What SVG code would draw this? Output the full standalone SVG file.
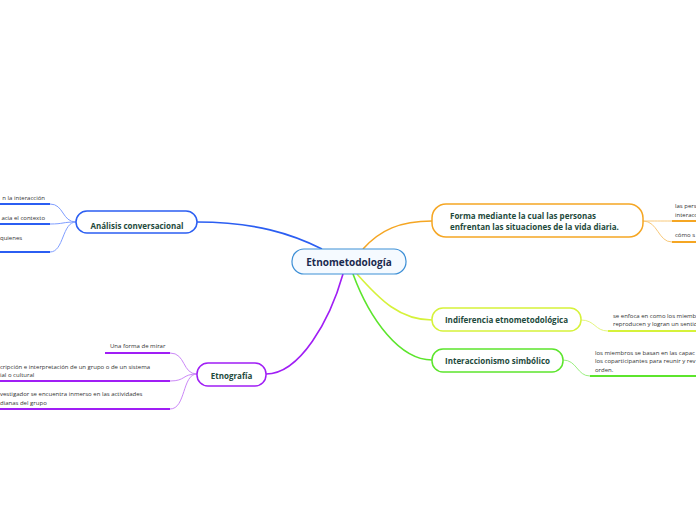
<svg xmlns="http://www.w3.org/2000/svg" width="696" height="520" viewBox="0 0 696 520">
<style>
text{font-family:"Open Sans","Noto Sans","Liberation Sans",sans-serif}
.main{font-size:10px;font-weight:bold;fill:#1b2a4e}
.nd{font-size:8px;font-weight:bold;fill:#1e4a3c}
.sm{font-size:6px;fill:#333}
</style>
<rect width="696" height="520" fill="#ffffff"/>
<g id="connectors" fill="none">
<path d="M322,249 C292,234 255,222 197,222" stroke="#2b5ef2" stroke-width="1.6"/>
<path d="M363,249 C380,230 400,221 432,221" stroke="#f5a623" stroke-width="1.6"/>
<path d="M343,274 C330,320 300,374 266,374" stroke="#a01ef5" stroke-width="1.6"/>
<path d="M357,274 C380,300 400,320 432,320" stroke="#d6f23a" stroke-width="1.6"/>
<path d="M353,274 C370,320 400,360 432,360" stroke="#5ce52c" stroke-width="1.6"/>
<g stroke="#7f9eff" stroke-width="1">
<path d="M76,222 C62,222 64,204 50,204"/>
<path d="M76,222 C62,222 64,224 50,224"/>
<path d="M76,222 C62,222 64,252 50,252"/>
</g>
<g stroke="#2b5ef2" stroke-width="2">
<path d="M0,204 H50"/><path d="M0,224 H50"/><path d="M0,252 H50"/>
</g>
<g stroke="#cb88f7" stroke-width="1">
<path d="M197,374 C182,374 186,353 170,353"/>
<path d="M197,374 C182,374 186,381 170,381"/>
<path d="M197,374 C182,374 186,409 170,409"/>
</g>
<g stroke="#a01ef5" stroke-width="2">
<path d="M105,353 H170"/><path d="M0,381 H170"/><path d="M0,409 H170"/>
</g>
<g stroke="#f8c878" stroke-width="1">
<path d="M643,221 C655,221 660,221 672,221"/>
<path d="M643,221 C658,221 658,242 672,242"/>
</g>
<g stroke="#f5a623" stroke-width="2">
<path d="M672,221 H696"/><path d="M672,242 H696"/>
</g>
<path d="M581,320 C595,320 595,331 608,331" stroke="#e4f57e" stroke-width="1"/>
<path d="M608,331 H696" stroke="#d6f23a" stroke-width="2"/>
<path d="M563,360 C577,360 577,376 590,376" stroke="#9bef80" stroke-width="1"/>
<path d="M590,376 H696" stroke="#5ce52c" stroke-width="2"/>
</g>
<g id="center">
<rect x="292" y="249" width="114" height="25" rx="12" fill="#f5faff" stroke="#3d8fd6" stroke-width="1.2"/>
<text class="main" x="349" y="265.5" text-anchor="middle">Etnometodología</text>
</g>
<g id="analisis">
<rect x="76" y="211" width="121" height="22" rx="11" fill="#fff" stroke="#2b5ef2" stroke-width="1.5"/>
<text class="nd" x="137" y="229" text-anchor="middle">Análisis conversacional</text>
</g>
<g id="analisis-sub">
<text class="sm" x="45" y="199.5" text-anchor="end">n la interacción</text>
<text class="sm" x="45" y="219.5" text-anchor="end">acia el contexto</text>
<text class="sm" x="0" y="239.5">quienes</text>
</g>
<g id="etnografia">
<rect x="197" y="363" width="69" height="23" rx="11" fill="#fff" stroke="#a01ef5" stroke-width="1.5"/>
<text class="nd" x="231.5" y="379" text-anchor="middle">Etnografía</text>
</g>
<g id="etnografia-sub">
<text class="sm" x="110" y="348">Una forma de mirar</text>
<text class="sm" x="0" y="368.5">cripción e interpretación de un grupo o de un sistema</text>
<text class="sm" x="0" y="377">ial o cultural</text>
<text class="sm" x="0" y="396">vestigador se encuentra inmerso en las actividades</text>
<text class="sm" x="0" y="405">dianas del grupo</text>
</g>
<g id="forma">
<rect x="432" y="204" width="211" height="33" rx="14" fill="#fff" stroke="#f5a623" stroke-width="1.5"/>
<text class="nd" x="450" y="218.5">Forma mediante la cual las personas</text>
<text class="nd" x="450" y="230">enfrentan las situaciones de la vida diaria.</text>
</g>
<g id="forma-sub">
<text class="sm" x="675" y="207.5">las pers</text>
<text class="sm" x="675" y="216.5">interacc</text>
<text class="sm" x="675" y="236.5">cómo s</text>
</g>
<g id="indiferencia">
<rect x="432" y="308" width="149" height="23" rx="11" fill="#fff" stroke="#d6f23a" stroke-width="1.5"/>
<text class="nd" x="506.5" y="323" text-anchor="middle">Indiferencia etnometodológica</text>
</g>
<g id="indiferencia-sub">
<text class="sm" x="613" y="317.5">se enfoca en como los miemb</text>
<text class="sm" x="613" y="326">reproducen y logran un sentid</text>
</g>
<g id="interaccionismo">
<rect x="432" y="349" width="131" height="23" rx="11" fill="#fff" stroke="#5ce52c" stroke-width="1.5"/>
<text class="nd" x="497.5" y="364" text-anchor="middle">Interaccionismo simbólico</text>
</g>
<g id="interaccionismo-sub">
<text class="sm" x="595" y="354.5">los miembros se basan en las capac</text>
<text class="sm" x="595" y="363">los coparticipantes para reunir y rev</text>
<text class="sm" x="595" y="371.5">orden.</text>
</g>
</svg>
